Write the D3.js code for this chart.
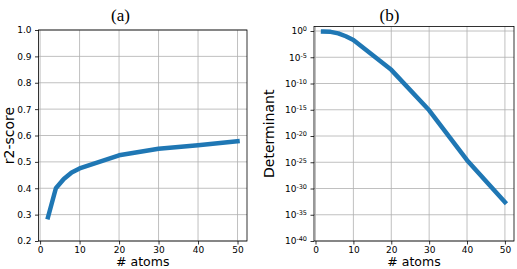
<!DOCTYPE html>
<html>
<head>
<meta charset="utf-8">
<script src="https://cdn.jsdelivr.net/npm/d3@7"></script>
<style>
    body { margin: 0; background: #fff; }
    svg text { font-family: "DejaVu Sans", sans-serif; fill: #000; }
    .tick text { font-size: 9px; }
    .axis-title { font-size: 14px; }
    .x-title { font-size: 12.5px; }
    .panel-title { font-family: "Liberation Serif", "DejaVu Serif", serif; font-size: 17px; }
</style>
</head>
<body>
<svg id="chart" width="517" height="269"></svg>
<script>
// number of atoms (shared x values)
const atoms = [2, 4, 6, 8, 10, 20, 30, 40, 50];

// (a) r2-score
const r2Score = [0.29, 0.40, 0.435, 0.46, 0.475, 0.525, 0.55, 0.563, 0.578];

// (b) determinant
const determinant = [0.8, 0.7, 0.35, 0.1, 0.02, 4e-8, 8e-16, 2.5e-25, 2.5e-33];

const xTicks = [0, 10, 20, 30, 40, 50];
const r2Ticks = [0.2, 0.3, 0.4, 0.5, 0.6, 0.7, 0.8, 0.9, 1.0];
const detExponents = [0, -5, -10, -15, -20, -25, -30, -35, -40];

const lineColor = "#1f77b4";
const gridColor = "#b0b0b0";

const svg = d3.select("#chart");

// panel frames
const xA = d3.scaleLinear().domain([-0.4, 52.4]).range([38.5, 247]);
const yA = d3.scaleLinear().domain([0.2, 1.0]).range([241, 30]);
const xB = d3.scaleLinear().domain([-0.4, 52.4]).range([314, 514]);
const yB = d3.scaleLog().domain([1e-40, Math.pow(10, 0.86)]).range([241, 26.5]);

function drawPanel(x, y, yTickValues, values, opts) {
    const [x0, x1] = x.range();
    const [y0, y1] = y.range();

    // grid
    const grid = svg.append("g");
    grid.selectAll(".vgrid")
        .data(xTicks)
        .join("line")
        .attr("x1", d => x(d)).attr("x2", d => x(d))
        .attr("y1", y1).attr("y2", y0)
        .style("stroke", gridColor).style("stroke-width", 0.8);
    grid.selectAll(".hgrid")
        .data(yTickValues)
        .join("line")
        .attr("x1", x0).attr("x2", x1)
        .attr("y1", d => y(d)).attr("y2", d => y(d))
        .style("stroke", gridColor).style("stroke-width", 0.8);

    // line
    const line = d3.line()
        .x((d, i) => x(atoms[i]))
        .y(d => y(d));
    svg.append("path")
        .datum(values)
        .attr("d", line)
        .style("fill", "none")
        .style("stroke", lineColor)
        .style("stroke-width", 4.5)
        .style("stroke-linejoin", "round")
        .style("stroke-linecap", "square");

    // frame
    svg.append("rect")
        .attr("x", x0).attr("y", y1)
        .attr("width", x1 - x0).attr("height", y0 - y1)
        .style("fill", "none")
        .style("stroke", "#000")
        .style("stroke-width", 0.8);

    // x axis
    const xAxis = svg.append("g")
        .attr("transform", `translate(0, ${y0})`)
        .call(d3.axisBottom(x).tickValues(xTicks).tickSize(3.5).tickPadding(2.5).tickFormat(d3.format("d")));
    xAxis.select(".domain").remove();

    // y axis
    const yAxis = svg.append("g")
        .attr("transform", `translate(${x0}, 0)`)
        .call(d3.axisLeft(y).tickValues(yTickValues).tickSize(3.5).tickPadding(3.5).tickFormat(opts.yFormat));
    yAxis.select(".domain").remove();
    svg.selectAll(".tick line").style("stroke", "#000").style("stroke-width", 0.8);
    svg.selectAll(".tick text").style("fill", "#000");

    if (opts.logLabels) {
        yAxis.selectAll(".tick text")
            .text(null)
            .each(function (d) {
                const t = d3.select(this);
                t.append("tspan").text("10");
                t.append("tspan")
                    .attr("dy", "-0.45em")
                    .style("font-size", "6.5px")
                    .text(Math.round(Math.log10(d)));
            });
    }

    // axis titles
    svg.append("text")
        .attr("class", "axis-title x-title")
        .attr("x", (x0 + x1) / 2)
        .attr("y", 266.3)
        .attr("text-anchor", "middle")
        .text("# atoms");
    svg.append("text")
        .attr("class", "axis-title")
        .attr("transform", `translate(${opts.yTitleX}, ${(y0 + y1) / 2}) rotate(-90)`)
        .attr("text-anchor", "middle")
        .text(opts.yTitle);

    // panel title
    svg.append("text")
        .attr("class", "panel-title")
        .attr("x", opts.titleX)
        .attr("y", 20.5)
        .attr("text-anchor", "middle")
        .text(opts.title);
}

drawPanel(xA, yA, r2Ticks, r2Score, {
    yFormat: d3.format(".1f"),
    yTitle: "r2-score",
    yTitleX: 13.5,
    title: "(a)",
    titleX: 120.5
});

drawPanel(xB, yB, detExponents.map(e => Math.pow(10, e)), determinant, {
    yFormat: () => "",
    logLabels: true,
    yTitle: "Determinant",
    yTitleX: 274,
    title: "(b)",
    titleX: 389.5
});
</script>
</body>
</html>
